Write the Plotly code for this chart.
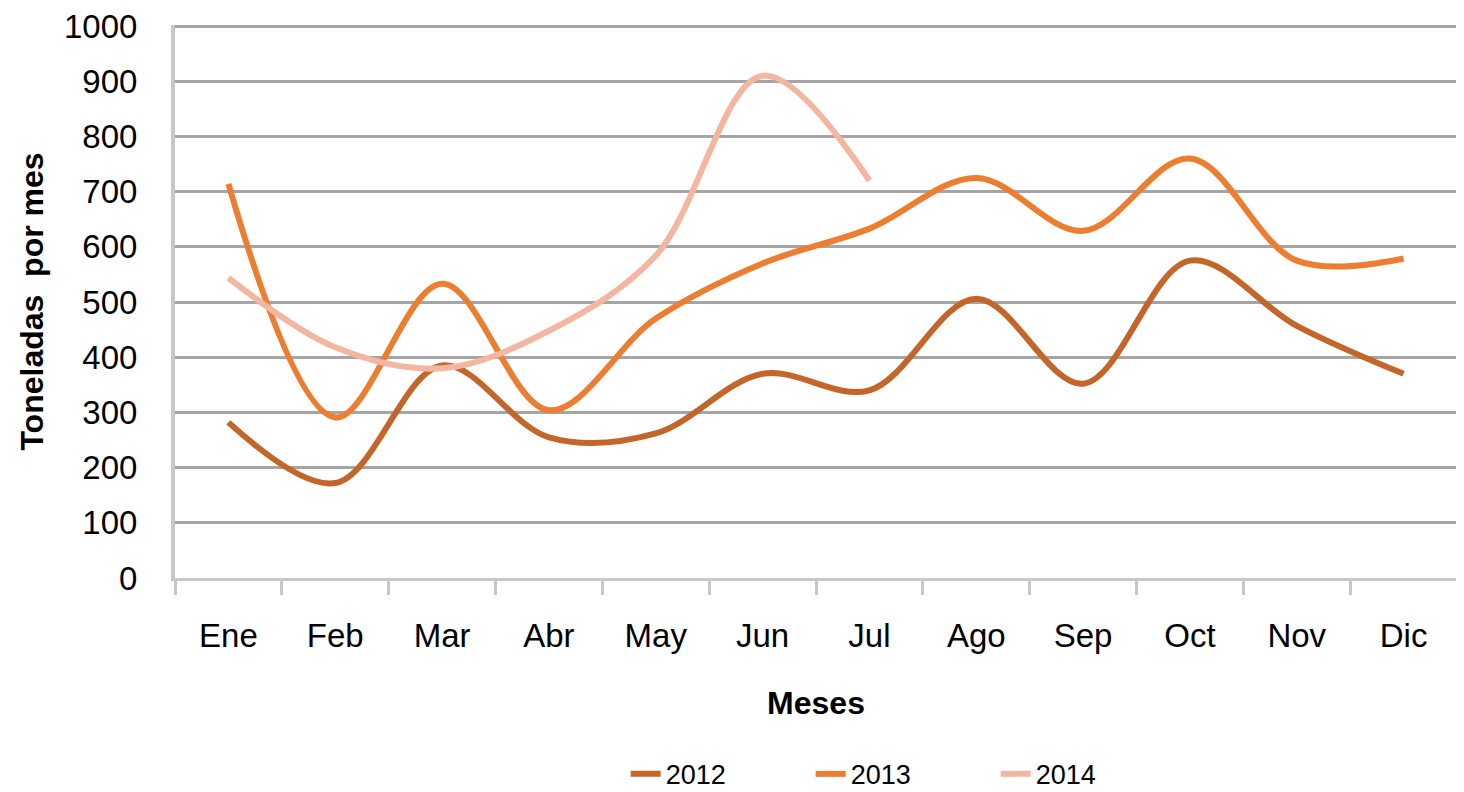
import plotly.graph_objects as go

months = ["Ene", "Feb", "Mar", "Abr", "May", "Jun", "Jul", "Ago", "Sep", "Oct", "Nov", "Dic"]
v2012 = [282, 172, 385, 255, 262, 370, 340, 506, 352, 575, 457, 370]
v2013 = [714, 291, 533, 304, 470, 570, 633, 725, 629, 760, 575, 579]
v2014 = [544, 418, 380, 448, 584, 910, 720]
y_ticks = [0, 100, 200, 300, 400, 500, 600, 700, 800, 900, 1000]

FONT = "Liberation Sans"

fig = go.Figure()
fig.add_trace(go.Scatter(x=months, y=v2012, name="2012", mode="lines",
                         line=dict(color="#C4652A", width=6, shape="spline", smoothing=1.0)))
fig.add_trace(go.Scatter(x=months, y=v2013, name="2013", mode="lines",
                         line=dict(color="#ED7D31", width=6, shape="spline", smoothing=1.0)))
fig.add_trace(go.Scatter(x=months[:len(v2014)], y=v2014, name="2014", mode="lines",
                         line=dict(color="#F4B6A0", width=6, shape="spline", smoothing=1.0)))

fig.update_layout(
    width=1456, height=784,
    margin=dict(l=167, r=7, t=17, b=214, autoexpand=False),
    paper_bgcolor="white", plot_bgcolor="white",
    font=dict(family=FONT, color="black"),
    showlegend=True,
    legend=dict(orientation="h", x=0.568, xanchor="center", y=-0.355, yanchor="middle",
                font=dict(size=27, family=FONT), entrywidth=140, entrywidthmode="pixels",
                traceorder="normal"),
    xaxis=dict(
        type="category", categoryorder="array", categoryarray=months,
        range=[-0.5, 11.5], automargin=False,
        showgrid=False, showline=True, linecolor="#C8C8C8", linewidth=3,
        ticks="outside", tickson="boundaries", ticklen=14, tickwidth=3, tickcolor="#C8C8C8",
        tickfont=dict(size=33, family=FONT), ticklabelstandoff=26,
        title=dict(text="<b>Meses</b>", font=dict(size=32, family=FONT), standoff=40),
        zeroline=False,
    ),
    yaxis=dict(
        range=[0, 1002], tickvals=y_ticks, ticktext=[str(v) for v in y_ticks],
        automargin=False, ticklabeloverflow="allow",
        showgrid=True, gridcolor="#A5A5A5", gridwidth=2.5,
        showline=True, linecolor="#C8C8C8", linewidth=4,
        zeroline=False,
        ticks="", tickfont=dict(size=33, family=FONT), ticklabelstandoff=27,
        title=dict(text="<b>Toneladas\u00a0 por mes</b>", font=dict(size=32, family=FONT), standoff=12),
    ),
)

fig.write_html("out.html")
